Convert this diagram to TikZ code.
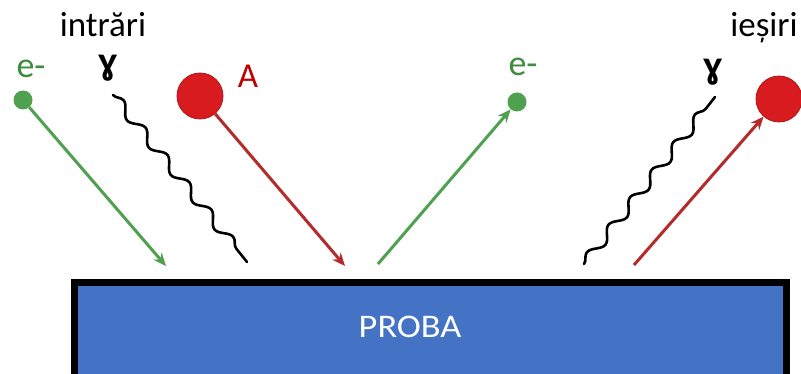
\documentclass[tikz,border=0pt]{standalone}
\usepackage{fontspec}
\setmainfont{Carlito}
\usetikzlibrary{arrows.meta,decorations.pathmorphing}
\definecolor{grn}{HTML}{4FA04F}
\definecolor{grntxt}{HTML}{3F8C3F}
\definecolor{ballred}{HTML}{D81B1F}
\definecolor{arrred}{HTML}{B52A2A}
\definecolor{txtred}{HTML}{C00000}
\definecolor{probablue}{HTML}{4472C4}
\begin{document}
\begin{tikzpicture}[x=1pt,y=-1pt,
  probabox/.style={draw=black,line width=7pt,fill=probablue,outer sep=0pt,inner sep=0pt,anchor=north west},
  ball/.style={circle,fill=ballred,draw=ballred!80!black,line width=0.8pt,inner sep=0pt,minimum size=46pt},
  dot/.style={circle,fill=grn,inner sep=0pt,minimum size=19pt},
  garrow/.style={draw=grn,line width=3pt,-{Stealth[length=13pt,width=11pt]}},
  rarrow/.style={draw=arrred,line width=3pt,-{Stealth[length=13pt,width=11pt]}},
  wave/.style={draw=black,line width=2.6pt,line cap=round,decorate,decoration={snake,segment length=35pt,amplitude=5pt}},
  head/.style={font=\fontsize{35}{40}\selectfont,anchor=base},
  elab/.style={font=\fontsize{36}{40}\selectfont,text=grntxt,inner sep=0pt},
  glab/.style={font=\fontsize{40}{44}\selectfont\bfseries,text=black,inner sep=0pt},
  alab/.style={font=\fontsize{35}{40}\selectfont,text=txtred,inner sep=0pt}
]
\useasboundingbox (0,0) rectangle (801,374);
\clip (0,0) rectangle (801,374);
\fill[white] (0,0) rectangle (801,374);

% sample
\node[probabox,minimum width=712pt,minimum height=130pt] (proba) at (74,283) {};
\node[font=\fontsize{33}{38}\selectfont,text=white,xscale=1.1] (probatxt) at (410,327) {PROBA};

% headings
\node[head] (intrari) at (103,37) {intrări};
\node[head] (iesiri) at (764,37) {ieșiri};

% incoming
\node[dot] (ein) at (23,100) {};
\node[elab] (einlab) at (31,69) {e-};
\node[glab] (gin) at (108,68) {ɣ};
\node[ball] (ain) at (200,96) {};
\node[alab] (ainlab) at (248,76) {A};

\coordinate (eintip) at (166,266);
\coordinate (winstart) at (113,95);
\coordinate (winend) at (247,262);
\coordinate (aintip) at (345,266);

\draw[garrow] (ein) -- (eintip);
\draw[wave] (winstart) -- (winend);
\draw[rarrow] (ain) -- (aintip);

% outgoing
\node[dot] (eout) at (517,102) {};
\node[elab] (eoutlab) at (523,67) {e-};
\node[glab] (gout) at (713,72) {ɣ};
\node[ball] (aout) at (779,99) {};

\coordinate (eoutstart) at (378,264);
\coordinate (woutstart) at (584,264);
\coordinate (woutend) at (715,97);
\coordinate (aoutstart) at (634,265);

\draw[garrow] (eoutstart) -- (eout);
\draw[wave] (woutstart) -- (woutend);
\draw[rarrow] (aoutstart) -- (aout);
\end{tikzpicture}
\end{document}
